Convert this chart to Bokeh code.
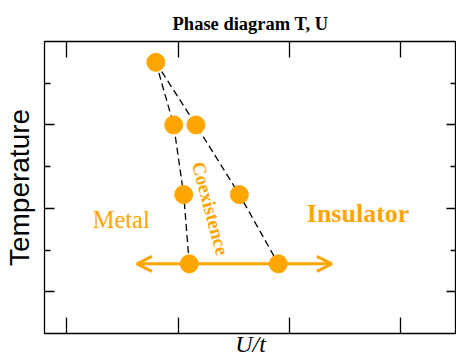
from bokeh.plotting import figure
from bokeh.models import LinearAxis, FixedTicker, Label, Arrow, OpenHead, Range1d
from bokeh.embed import file_html
from bokeh.resources import INLINE

# ---- data ----
temps = [6.5, 5.0, 3.33, 1.67]            # temperature levels of the points
u_left = [0.80, 0.96, 1.05, 1.10]         # metal-side boundary U_c1
u_right = [0.80, 1.16, 1.55, 1.90]        # insulator-side boundary U_c2
arrow_u = [0.63, 2.38]                    # extent of the double arrow
arrow_t = 1.67                            # temperature of the double arrow
x_ticks = [0, 1, 2, 3]
y_major = [1, 3, 5]
y_minor = [2, 4, 6]

ORANGE = "#FFA500"
SERIF = "Liberation Serif"

p = figure(width=456, height=361, output_backend="svg", toolbar_location=None,
           x_range=Range1d(-0.2, 3.5), y_range=Range1d(0, 7),
           x_axis_type=None, y_axis_type=None,
           min_border_left=44, min_border_right=0, min_border_top=41, min_border_bottom=28)
p.outline_line_color = "black"
p.outline_line_width = 1.3
p.outline_line_alpha = 1
p.background_fill_color = "white"
p.border_fill_color = "white"

p.title.text = "Phase diagram T, U"
p.title.text_font = SERIF
p.title.text_font_style = "bold"
p.title.text_font_size = "18.5px"
p.title.align = "center"
p.title.standoff = 16
p.title.text_color = "black"


def make_axis(ticks, minor, tin, minor_in):
    ax = LinearAxis(ticker=FixedTicker(ticks=ticks, minor_ticks=minor))
    ax.major_tick_in = tin
    ax.major_tick_out = 0
    ax.minor_tick_in = minor_in
    ax.minor_tick_out = 0
    ax.major_tick_line_color = "black"
    ax.major_tick_line_width = 1.3
    ax.minor_tick_line_color = "black"
    ax.minor_tick_line_width = 1.3
    ax.axis_line_color = None
    ax.major_label_text_font_size = "0px"
    ax.major_label_text_color = None
    ax.major_label_standoff = 0
    return ax


xb = make_axis(x_ticks, [], 16, 0)
xb.axis_label = "U/t"
xb.axis_label_text_font = SERIF
xb.axis_label_text_font_style = "italic"
xb.axis_label_text_font_size = "24px"
xb.axis_label_text_color = "black"
xb.axis_label_standoff = -3
p.add_layout(xb, "below")
p.add_layout(make_axis(x_ticks, [], 16, 0), "above")

yl = make_axis(y_major, y_minor, 10, 6)
yl.axis_label = "Temperature"
yl.axis_label_text_font = "Liberation Sans"
yl.axis_label_text_font_style = "normal"
yl.axis_label_text_font_size = "28px"
yl.axis_label_text_color = "black"
yl.axis_label_standoff = 10
p.add_layout(yl, "left")
p.add_layout(make_axis(y_major, y_minor, 10, 6), "right")

# double arrow under the markers
arr = Arrow(start=OpenHead(size=15, line_color=ORANGE, line_width=3),
            end=OpenHead(size=15, line_color=ORANGE, line_width=3),
            x_start=arrow_u[0], y_start=arrow_t, x_end=arrow_u[1], y_end=arrow_t,
            line_color=ORANGE, line_width=3, level="underlay")
p.add_layout(arr)

# dashed boundaries
p.line(u_left, temps, line_color="black", line_width=1.3, line_dash="7 4")
p.line(u_right, temps, line_color="black", line_width=1.3, line_dash="7 4")

# points
px = [u_left[0]] + u_left[1:] + u_right[1:]
py = [temps[0]] + temps[1:] + temps[1:]
p.scatter(px, py, size=18, fill_color=ORANGE, line_color=ORANGE)

# region texts
p.add_layout(Label(x=0.489, y=2.726, text="Metal",
                   text_font=SERIF, text_font_size="24.5px",
                   text_align="center", text_baseline="alphabetic", text_color=ORANGE))
p.add_layout(Label(x=2.616, y=2.87, text="Insulator",
                   text_font=SERIF, text_font_style="bold", text_font_size="26px",
                   text_align="center", text_baseline="alphabetic", text_color=ORANGE))
p.add_layout(Label(x=1.29, y=3.0, angle=-1.309, text="Coexistence",
                   text_font=SERIF, text_font_style="bold", text_font_size="19px",
                   text_align="center", text_baseline="middle", text_color=ORANGE))

open("out.html", "w").write(file_html(p, INLINE))
